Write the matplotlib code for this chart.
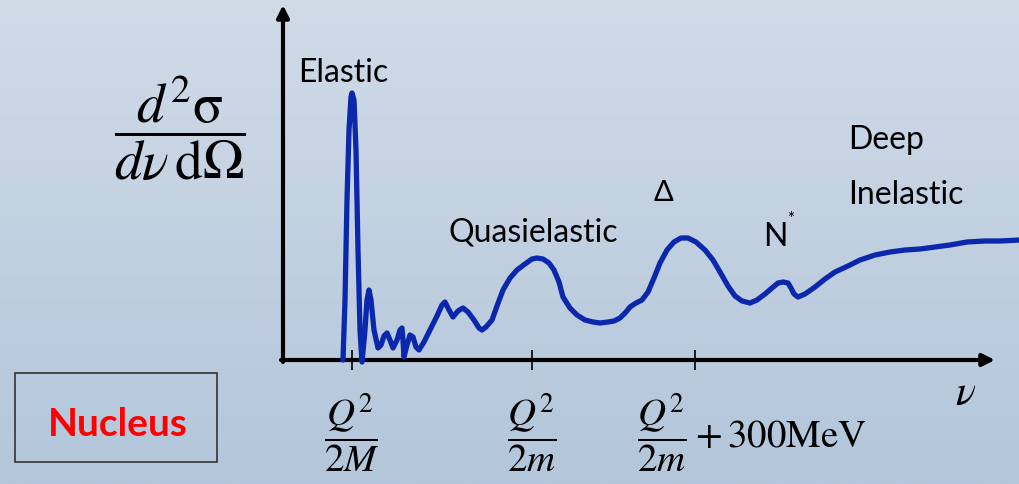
import numpy as np
import matplotlib
matplotlib.use('Agg')
import matplotlib.pyplot as plt
from matplotlib.patches import Rectangle

plt.rcParams['mathtext.fontset'] = 'stix'
plt.rcParams['font.family'] = ['Lato', 'DejaVu Sans']

# energy transfer nu (arbitrary units) and d2sigma/dnu dOmega (arbitrary units)
nu = [60, 62, 64, 66, 68, 69, 71, 73, 75, 77,
      79, 82, 84, 86, 88, 91, 95, 98, 101, 104,
      107, 110, 114, 117, 119, 120, 121, 124, 127, 130,
      133, 136, 141, 147, 154, 159, 162, 166, 170, 175,
      180, 185, 191, 196, 199, 203, 209, 214, 220, 227,
      234, 242, 249, 254, 260, 266, 271, 276, 280, 287,
      294, 302, 310, 317, 325, 331, 337, 343, 347, 353,
      359, 365, 371, 377, 384, 391, 398, 405, 413, 422,
      430, 437, 445, 452, 459, 467, 474, 482, 489, 495,
      500, 505, 508, 511, 515, 522, 532, 542, 552, 565,
      577, 592, 607, 622, 637, 652, 667, 684, 702, 717,
      737]
xsec = [0, 60, 160, 230, 263, 267, 260, 210, 110, 30,
        -2, 30, 60, 70, 60, 30, 12, 15, 24, 27,
        20, 12, 20, 30, 32, 20, 3, 15, 25, 23,
        13, 10, 18, 30, 44, 55, 58, 50, 43, 49,
        52, 48, 40, 32, 30, 33, 40, 54, 70, 82,
        90, 96, 101, 102, 101, 97, 90, 78, 63, 52,
        45, 40, 38, 37, 38, 39, 42, 48, 53, 57,
        60, 68, 82, 97, 110, 118, 122, 122, 118, 110,
        100, 88, 74, 64, 59, 57, 60, 66, 72, 77,
        78, 77, 72, 66, 63, 66, 73, 81, 88, 94,
        100, 105, 108, 110, 111, 113, 115, 118, 119, 119,
        120]

tick_nu = [69, 249, 412]
tick_labels = [r'$\dfrac{Q^2}{2M}$', r'$\dfrac{Q^2}{2m}$',
               r'$\dfrac{Q^2}{2m}+300\mathrm{MeV}$']

W, H = 1020, 484
def px(x, y):
    return x / W, 1 - y / H

fig = plt.figure(figsize=(10.2, 4.84), dpi=100)

# background gradient
bg = fig.add_axes([0, 0, 1, 1])
grad = np.linspace(0, 1, 256).reshape(-1, 1)
cmap = matplotlib.colors.LinearSegmentedColormap.from_list('bg', ['#d0dbe8', '#b3c6da'])
bg.imshow(grad, aspect='auto', cmap=cmap, extent=[0, 1, 0, 1])
bg.axis('off')

ax = fig.add_axes([283 / W, 124 / H, 717 / W, 360 / H])
ax.set_xlim(0, 717)
ax.set_ylim(0, 360)
ax.axis('off')
ax.patch.set_alpha(0)

# axes with arrows
ax.annotate('', xy=(0, 355), xytext=(0, -2),
            arrowprops=dict(arrowstyle='-|>', lw=3, color='black', mutation_scale=18,
                            shrinkA=0, shrinkB=0), annotation_clip=False)
ax.annotate('', xy=(712, 0), xytext=(-2, 0),
            arrowprops=dict(arrowstyle='-|>', lw=3, color='black', mutation_scale=18,
                            shrinkA=0, shrinkB=0), annotation_clip=False)
ax.vlines(tick_nu, -10, 10, color='black', lw=1.2, clip_on=False)

ax.plot(nu, xsec, color='#0b28ad', lw=3.8, solid_joinstyle='round',
        solid_capstyle='round', clip_on=False, zorder=3)

# tick labels: the last one starts left of its tick
for i, (x, lab) in enumerate(zip(tick_nu, tick_labels)):
    if i < 2:
        ax.text(x, -73, lab, fontsize=28, ha='center', va='center')
    else:
        ax.text(x - 58, -73, lab, fontsize=28, ha='left', va='center')
ax.text(683, -33, r'$\nu$', fontsize=30, ha='center', va='center')

# region labels
fig.text(*px(343, 73), 'Elastic', fontsize=23, ha='center', va='center')
fig.text(*px(533, 233), 'Quasielastic', fontsize=23, ha='center', va='center')
fig.text(*px(663, 193), 'Δ', fontsize=21, ha='center', va='center')
fig.text(*px(775, 237), 'N', fontsize=23, ha='center', va='center')
fig.text(*px(791, 219), '*', fontsize=12, ha='center', va='center')
fig.text(*px(848, 140), 'Deep', fontsize=23, ha='left', va='center')
fig.text(*px(848, 195), 'Inelastic', fontsize=23, ha='left', va='center')

# y label
fig.text(*px(180, 128), r'$\dfrac{d^2\mathrm{\sigma}}{d\nu\,\mathrm{d}\Omega}$', fontsize=40,
         ha='center', va='center')

# Nucleus box
fig.patches.append(Rectangle(px(15, 462), 202 / W, 89 / H, transform=fig.transFigure,
                             fill=False, ec='#333333', lw=1.2))
fig.text(*px(118, 424), 'Nucleus', fontsize=28, fontweight='bold', color='#ff0000',
         ha='center', va='center')

fig.savefig('out.png', dpi=100)
